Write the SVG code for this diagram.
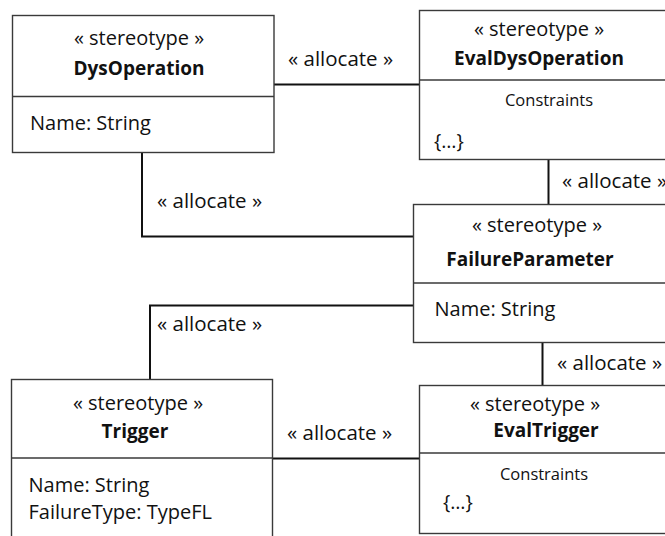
<svg xmlns="http://www.w3.org/2000/svg" width="665" height="536" viewBox="0 0 665 536">
<style>
  .box { fill: #ffffff; stroke: #3a3a3a; stroke-width: 1.4; }
  .div { stroke: #3a3a3a; stroke-width: 1.4; fill: none; }
  .conn { stroke: #111111; stroke-width: 2; fill: none; }
  text { font-family: "Open Sans", "Noto Sans", "Liberation Sans", sans-serif; fill: #111111; }
  .st { font-size: 20px; text-anchor: middle; }
  .nm { font-size: 19px; font-weight: bold; text-anchor: middle; }
  .at { font-size: 20px; }
  .cs { font-size: 16.5px; text-anchor: middle; }
  .br { font-size: 19.5px; }
  .lb { font-size: 20.5px; }
</style>
<rect width="665" height="536" fill="#ffffff"/>
<g id="connectors">
  <path class="conn" d="M274,84.5 H419.5"/>
  <path class="conn" d="M548.5,159.5 V204.5"/>
  <path class="conn" d="M142,152.5 V236.5 H413.5"/>
  <path class="conn" d="M413.5,305.5 H150 V379.5"/>
  <path class="conn" d="M542.5,342.5 V385.5"/>
  <path class="conn" d="M272.5,458.5 H419.5"/>
  <text class="lb" x="288" y="66">« allocate »</text>
  <text class="lb" x="157" y="208">« allocate »</text>
  <text class="lb" x="562" y="188">« allocate »</text>
  <text class="lb" x="157" y="331">« allocate »</text>
  <text class="lb" x="287" y="440">« allocate »</text>
  <text class="lb" x="557" y="370">« allocate »</text>
</g>
<g id="DysOperation">
  <rect class="box" x="12.5" y="15.5" width="261.5" height="137"/>
  <line class="div" x1="12.5" y1="96.5" x2="274" y2="96.5"/>
  <text class="st" x="139" y="45">« stereotype »</text>
  <text class="nm" x="139" y="75">DysOperation</text>
  <text class="at" x="30" y="130">Name: String</text>
</g>
<g id="EvalDysOperation">
  <rect class="box" x="419.5" y="10.5" width="300" height="149"/>
  <line class="div" x1="419.5" y1="80" x2="720" y2="80"/>
  <text class="st" x="539" y="36">« stereotype »</text>
  <text class="nm" x="539" y="65">EvalDysOperation</text>
  <text class="cs" x="549" y="106">Constraints</text>
  <text class="br" x="434" y="148">{…}</text>
</g>
<g id="FailureParameter">
  <rect class="box" x="413.5" y="204.5" width="300" height="138"/>
  <line class="div" x1="413.5" y1="283" x2="714" y2="283"/>
  <text class="st" x="537" y="232">« stereotype »</text>
  <text class="nm" x="530" y="266">FailureParameter</text>
  <text class="at" x="434.5" y="316">Name: String</text>
</g>
<g id="Trigger">
  <rect class="box" x="11.5" y="379.5" width="261" height="180"/>
  <line class="div" x1="11.5" y1="458" x2="272.5" y2="458"/>
  <text class="st" x="138" y="410">« stereotype »</text>
  <text class="nm" x="135" y="438">Trigger</text>
  <text class="at" x="28.5" y="492">Name: String</text>
  <text class="at" x="28.5" y="519">FailureType: TypeFL</text>
</g>
<g id="EvalTrigger">
  <rect class="box" x="419.5" y="385.5" width="300" height="148"/>
  <line class="div" x1="419.5" y1="453" x2="720" y2="453"/>
  <text class="st" x="535" y="411">« stereotype »</text>
  <text class="nm" x="546" y="437">EvalTrigger</text>
  <text class="cs" x="544" y="480">Constraints</text>
  <text class="br" x="443" y="509">{…}</text>
</g>
</svg>
